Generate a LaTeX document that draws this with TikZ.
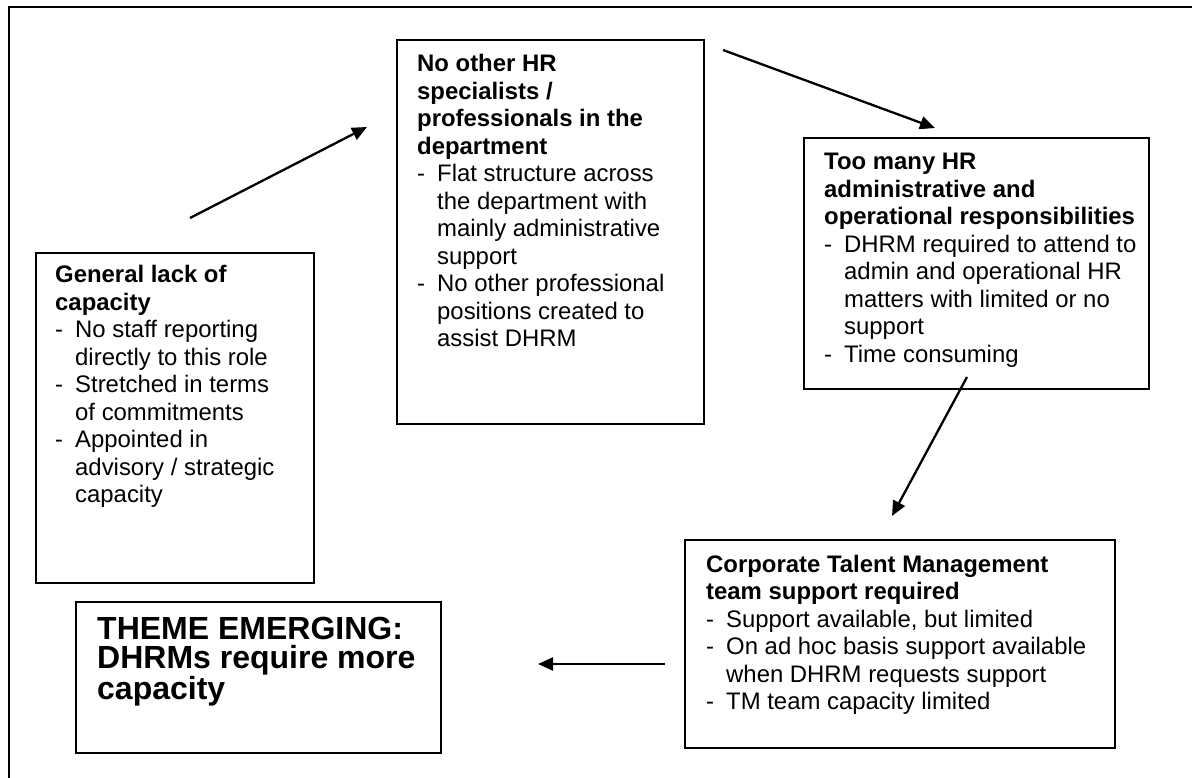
\documentclass[tikz,border=0pt]{standalone}
\usepackage{fontspec}
\setmainfont{Liberation Sans}
\usetikzlibrary{arrows.meta}

% text sizes: panel text and the large conclusion text
% (\spaceskip reset so the font's own word spaces are used)
\newcommand\panelfont{\fontsize{23.9}{27.5}\selectfont\spaceskip=0pt\xspaceskip=0pt\relax}
\newcommand\themefont{\fontsize{32}{29.5}\selectfont\bfseries\spaceskip=0pt\xspaceskip=0pt\relax}
% dash list: first line with a dash, following lines indented
\newcommand\dashitem[1]{\makebox[20pt][l]{-}#1}
\newcommand\dashcont[1]{\hspace*{20pt}#1}

\tikzset{
  panel/.style={draw, line width=1.7pt, anchor=north west, inner sep=0pt},
  paneltext/.style={anchor=base west, inner sep=0pt, text width=440pt, align=left},
  flow/.style={line width=2.3pt, -{Triangle[length=15pt,width=13pt]}},
  frame/.style={line width=2.8pt}
}

\begin{document}
\begin{tikzpicture}[x=1pt,y=-1pt]
\useasboundingbox (0,0) rectangle (1192,778);

% outer frame (only its top and left sides fall inside the page)
\coordinate (frameTR) at (1200,7);
\coordinate (frameTL) at (9,7);
\coordinate (frameBL) at (9,790);
\draw[frame] (frameTR) -- (frameTL) -- (frameBL);

% panels
\node[panel, minimum width=278pt, minimum height=330pt] (capbox) at (35,252) {};
\node[panel, minimum width=307pt, minimum height=384pt] (specbox) at (396,39) {};
\node[panel, minimum width=345pt, minimum height=251pt] (adminbox) at (803,137) {};
\node[panel, minimum width=430pt, minimum height=208pt] (tmbox) at (684,539) {};
\node[panel, minimum width=365pt, minimum height=151pt] (themebox) at (75,601) {};

% panel texts
\node[paneltext] (captext) at (55,283) {\panelfont
  \textbf{General lack of}\\
  \textbf{capacity}\\
  \dashitem{No staff reporting}\\
  \dashcont{directly to this role}\\
  \dashitem{Stretched in terms}\\
  \dashcont{of commitments}\\
  \dashitem{Appointed in}\\
  \dashcont{advisory / strategic}\\
  \dashcont{capacity}\par};

\node[paneltext] (spectext) at (417,72) {\panelfont
  \textbf{No other HR}\\
  \textbf{specialists /}\\
  \textbf{professionals in the}\\
  \textbf{department}\\
  \dashitem{Flat structure across}\\
  \dashcont{the department with}\\
  \dashcont{mainly administrative}\\
  \dashcont{support}\\
  \dashitem{No other professional}\\
  \dashcont{positions created to}\\
  \dashcont{assist DHRM}\par};

\node[paneltext] (admintext) at (824,170) {\panelfont
  \textbf{Too many HR}\\
  \textbf{administrative and}\\
  \textbf{operational responsibilities}\\
  \dashitem{DHRM required to attend to}\\
  \dashcont{admin and operational HR}\\
  \dashcont{matters with limited or no}\\
  \dashcont{support}\\
  \dashitem{Time consuming}\par};

\node[paneltext] (tmtext) at (706,572) {\panelfont
  \textbf{Corporate Talent Management}\\
  \textbf{team support required}\\
  \dashitem{Support available, but limited}\\
  \dashitem{On ad hoc basis support available}\\
  \dashcont{when DHRM requests support}\\
  \dashitem{TM team capacity limited}\par};

\node[paneltext] (themetext) at (97,639) {\themefont
  THEME EMERGING:\\
  DHRMs require more\\
  capacity\par};

% arrows between the panels
\coordinate (a1s) at (190,218);  \coordinate (a1e) at (367,127);
\coordinate (a2s) at (723,50);   \coordinate (a2e) at (935,128);
\coordinate (a3s) at (967,377);  \coordinate (a3e) at (892,516);
\coordinate (a4s) at (665,664);  \coordinate (a4e) at (538,664);
\draw[flow] (a1s) -- (a1e);
\draw[flow] (a2s) -- (a2e);
\draw[flow] (a3s) -- (a3e);
\draw[flow] (a4s) -- (a4e);
\end{tikzpicture}
\end{document}
